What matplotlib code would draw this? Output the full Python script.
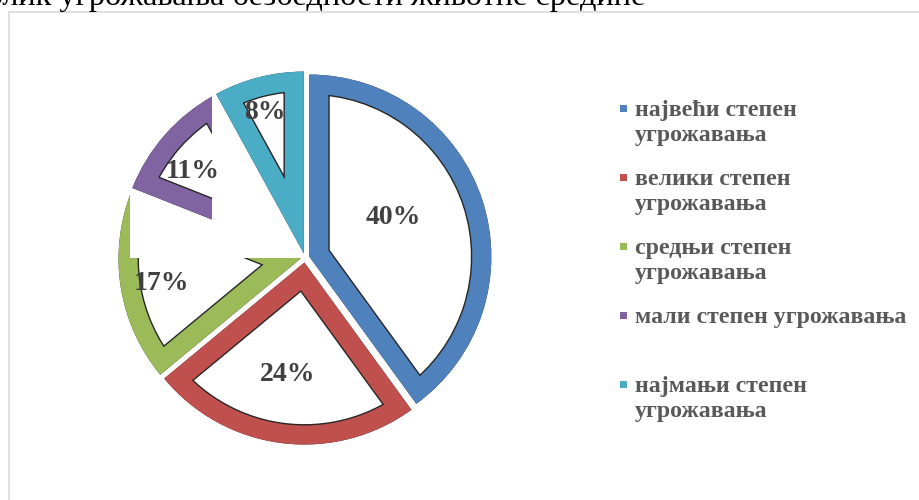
import textwrap
import numpy as np
import matplotlib
matplotlib.use("Agg")
import matplotlib.pyplot as plt
from matplotlib.patches import Rectangle, Wedge

# data
title = "Облик угрожавања безбедности животне средине"
categories = ["највећи степен угрожавања", "велики степен угрожавања",
              "средњи степен угрожавања", "мали степен угрожавања",
              "најмањи степен угрожавања"]
shares = [40, 24, 17, 11, 8]
colors = ["#4F81BD", "#C0504D", "#9BBB59", "#8064A2", "#4BACC6"]

# label placement (fraction of radius, angle nudge in degrees)
label_dist = [0.51, 0.625, 0.775, 0.755, 0.805]
label_nudge = [7, -1.5, 1, 4, 1]

plt.rcParams['font.family'] = ['Liberation Serif', 'DejaVu Serif']

W, H = 919, 500
BAND = 27.4  # stroke width in pt, half of it clipped away -> band inside slice

fig = plt.figure(figsize=(W / 100, H / 100), dpi=100)
ax = fig.add_axes([77.5 / W, 14.5 / H, 455 / W, 455 / H])

wedges, _ = ax.pie(shares, startangle=90, counterclock=False,
                   explode=[0.025] * len(shares), colors=colors)
ax.set_xlim(-1.25, 1.25)
ax.set_ylim(-1.25, 1.25)
ax.set_aspect('equal')

for i, (w, c) in enumerate(zip(wedges, colors)):
    # white slice with a thin dark line at the inner edge of the band
    under = Wedge(w.center, w.r, w.theta1, w.theta2, fc='white',
                  ec='#262626', lw=BAND + 2.0, zorder=i + 0.9)
    ax.add_patch(under)
    under.set_clip_on(True)
    under.set_clip_path(under)

    w.set_facecolor('none')
    w.set_edgecolor(c)
    w.set_linewidth(BAND)
    w.set_clip_on(True)
    w.set_clip_path(w)
    w.set_zorder(i + 1)

    mid = np.radians((w.theta1 + w.theta2) / 2 + label_nudge[i])
    ax.text(w.center[0] + label_dist[i] * np.cos(mid),
            w.center[1] + label_dist[i] * np.sin(mid),
            f"{shares[i]}%", ha='center', va='center', fontsize=20,
            fontweight='bold', color='#404040', zorder=10)

# white blocks that hide parts of the green and purple slices in the original
ax.add_patch(Rectangle((-0.962, 0), 0.962, 0.38, fc='white', ec='none', zorder=3.5))
ax.add_patch(Rectangle((-0.511, 0), 0.511, 0.92, fc='white', ec='none', zorder=4.5))

# chart frame, running off the right and bottom edges
fig.add_artist(Rectangle((9 / W, -0.5), 2, 1.5 - 12 / H, transform=fig.transFigure,
                         fill=False, ec='#D9D9D9', lw=1.2, zorder=0))

fig.text(645 / W, 1 - 5 / H, title, ha='right', va='baseline',
         fontsize=23.3, color='black')

# legend
for i, (cat, c) in enumerate(zip(categories, colors)):
    fig.text(635 / W, 1 - (100 + i * 69) / H, textwrap.fill(cat, 22),
             ha='left', va='top', fontsize=17.2, fontweight='bold',
             color='#595959', linespacing=1.25)
    fig.add_artist(Rectangle((620 / W, 1 - (112 + i * 69) / H), 7 / W, 7 / H,
                             transform=fig.transFigure, fc=c, ec='none'))

fig.savefig("out.png", dpi=100)
